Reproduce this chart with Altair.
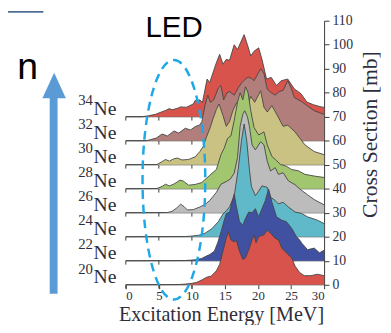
import altair as alt
import pandas as pd

# ---------------- data ----------------
isotopes = ["20Ne", "22Ne", "24Ne", "26Ne", "28Ne", "30Ne", "32Ne", "34Ne"]
mass_numbers = ["20", "22", "24", "26", "28", "30", "32", "34"]
offset_step = 10  # mb between stacked spectra
colors = ["#d8534b", "#3f51a0", "#5fb9c9", "#bcbcbc", "#a2c56f", "#c9c283", "#b27e7b", "#d8534b"]

e_20 = [0, 8, 9, 10, 10.7, 11.5, 12.2, 12.9, 13.7, 14.2, 14.7, 15.2, 15.5, 15.9, 16.4, 16.7, 17.2, 17.7, 18.1,
        18.7, 19.1, 19.4, 19.7, 20.1, 20.9, 21.4, 21.9, 22.6, 23.1, 23.6, 24.3, 25.1, 25.6, 26.3, 27.0, 28.0, 29.0, 30]
cs_20 = [0, 0.1, 0.3, 0.6, 1.0, 2.0, 3.1, 3.6, 5.8, 8.5, 14.0, 19.4, 22.2, 18.7, 17.8, 18.7, 14.0, 10.6, 11.2,
         15.3, 18.7, 20.8, 17.5, 20.1, 20.8, 22.8, 21.5, 19.4, 18.7, 15.3, 13.3, 11.2, 7.8, 5.1, 3.8, 3.8, 4.4, 3.8]

e_22 = [0, 9, 10.5, 11.5, 12.2, 12.7, 13.4, 13.9, 14.4, 14.9, 15.2, 15.7, 16.2, 16.4, 16.7, 17.2, 17.7, 18.1, 18.6,
        19.1, 19.6, 20.1, 20.6, 21.1, 21.6, 22.1, 22.8, 23.6, 24.3, 25.1, 25.8, 26.3, 26.6, 27.5, 28.5, 29.3, 30]
cs_22 = [0, 0.1, 0.4, 1.0, 2.0, 2.6, 4.0, 7.5, 12.0, 17.0, 19.7, 20.3, 25.8, 27.8, 23.0, 16.3, 14.9, 17.6, 20.3,
         20.0, 21.7, 18.3, 21.7, 25.0, 29.9, 24.4, 18.3, 16.9, 16.3, 13.5, 10.1, 8.7, 7.4, 4.6, 5.3, 3.3, 4.4]

e_24 = [0, 9, 10, 11, 12, 13, 14, 14.7, 15.2, 15.7, 16.4, 17.0, 17.5, 17.9, 18.3, 18.7, 19.0, 19.6, 20.1, 20.6,
        21.4, 21.9, 22.6, 23.1, 23.8, 24.6, 25.6, 26.6, 27.5, 29, 30]
cs_24 = [0, 0.1, 0.3, 0.6, 1.5, 3.3, 6.3, 9.5, 10.8, 12.5, 17, 28, 40, 47, 40, 28, 21, 17.1, 19, 21.2,
         20.6, 16.5, 15.1, 13.7, 14.4, 12.4, 10.3, 9.7, 8.3, 6.9, 5.5]

e_26 = [0, 6.3, 7.0, 7.7, 8.3, 8.8, 9.3, 10.2, 11.2, 12.0, 12.7, 13.7, 14.4, 15.2, 15.8, 16.4, 16.9, 17.3, 17.7,
        18.0, 18.4, 18.7, 19.1, 19.6, 20.4, 20.9, 21.4, 21.9, 22.6, 23.1, 23.8, 24.6, 25.6, 26.5, 27.5, 28.5, 30]
cs_26 = [0, 0.1, 0.6, 2.0, 3.6, 2.6, 1.2, 1.3, 2.4, 3.5, 5.1, 8.5, 11.9, 13, 14, 16.5, 23, 36, 41,
         42.5, 40, 36, 28.3, 26.2, 29.6, 28.3, 21.5, 17.4, 18.8, 16, 16.7, 13.3, 11.7, 9.5, 7.5, 5.5, 3.3]

e_28 = [0, 4.7, 5.5, 6.0, 6.6, 7.3, 8.2, 8.7, 9.5, 10.5, 11.5, 12.7, 13.7, 14.4, 14.9, 15.4, 15.9, 16.4, 16.9,
        17.3, 17.7, 18.1, 18.5, 18.9, 19.4, 20.1, 20.9, 21.4, 22.1, 22.7, 23.4, 24.2, 25.1, 26.1, 27.1, 28.5, 30]
cs_28 = [0, 0.1, 1.0, 1.9, 1.2, 2.0, 3.6, 3.2, 1.5, 1.8, 2.6, 5.6, 8.0, 14.2, 17, 21, 22, 28.5, 36,
         40, 37, 42.5, 40, 32.6, 25.5, 22.4, 23.7, 18.3, 13.5, 12, 10.1, 9.5, 8, 7.5, 6, 5.3, 4.7]

e_30 = [0, 4.7, 5.5, 6.0, 6.6, 7.2, 7.8, 8.5, 9.5, 10.5, 11.2, 11.7, 12.2, 12.7, 13.2, 13.7, 14.1, 14.7, 15.2,
        15.7, 16.2, 16.8, 17.5, 18.3, 18.9, 19.5, 20.4, 20.9, 21.4, 22.1, 22.8, 23.8, 24.5, 25.6, 27.1, 28.5, 30]
cs_30 = [0, 0.1, 1.3, 2.2, 1.5, 2.4, 2.8, 2.0, 2.2, 3.3, 5.5, 7.5, 11.5, 15, 19.2, 23, 25.3, 20.6, 16,
         18, 22.6, 26, 24, 24, 28.5, 26, 30.8, 24, 22, 24.6, 21.2, 16, 16.5, 13.7, 8.3, 5.5, 4.2]

e_32 = [0, 3.1, 4.6, 5.5, 6.3, 7.3, 8.0, 9.0, 9.8, 10.5, 11.2, 11.5, 12.0, 12.4, 12.8, 13.3, 14.0, 14.4, 14.8,
        15.3, 15.7, 16.4, 17.0, 17.5, 18.0, 18.5, 19.0, 19.4, 20.0, 20.4, 20.9, 21.4, 22.0, 22.6, 23.2, 23.8,
        24.5, 25.0, 25.5, 26.5, 27.5, 28.5, 29.5, 30]
cs_32 = [0, 0, 1.1, 2.8, 2, 4.1, 3.2, 5.2, 4.5, 5.9, 6.6, 8, 15, 19, 16, 17, 22, 23, 17,
         20, 20.5, 19, 22, 24, 25.5, 26.5, 26, 25, 28, 30, 28, 21.5, 20, 19, 20.5, 21,
         25, 22, 18, 16.5, 14.5, 12.5, 11.5, 11]

e_34 = [0, 2.5, 3.4, 4.5, 5.4, 6.0, 6.6, 7.0, 7.8, 8.3, 8.8, 9.2, 10.2, 10.5, 11.2, 11.6, 12.3, 12.7, 13.7,
        14.2, 14.7, 15.2, 15.7, 16.4, 16.9, 17.9, 18.4, 18.9, 19.4, 20.1, 20.6, 21.3, 22.0, 22.8, 23.5, 24.5,
        25.5, 26.5, 27.4, 28.4, 29.7, 30]
cs_34 = [0, 0, 0.4, 1, 2, 2.6, 3.4, 2.9, 3.5, 4.1, 4, 4, 5.3, 6.8, 7, 6, 15.7, 14.3, 22.5,
         26, 21.9, 23.9, 23.5, 30, 28, 34.2, 30, 25.3, 27.3, 28.7, 23.9, 15.7, 16.4, 13, 15, 15.7,
         11.6, 9.6, 6.1, 5, 4, 4]

x_ticks = [0, 5, 10, 15, 20, 25, 30]
y_ticks = [0, 10, 20, 30, 40, 50, 60, 70, 80, 90, 100, 110]
row_ticks = [0, 5, 10]

series = {
    "20Ne": (e_20, cs_20), "22Ne": (e_22, cs_22), "24Ne": (e_24, cs_24), "26Ne": (e_26, cs_26),
    "28Ne": (e_28, cs_28), "30Ne": (e_30, cs_30), "32Ne": (e_32, cs_32), "34Ne": (e_34, cs_34),
}

rows = []
for i, iso in enumerate(isotopes):
    e, cs = series[iso]
    for ee, c in zip(e, cs):
        rows.append({"iso": iso, "E": ee, "cs": c, "base": i * offset_step})
df = pd.DataFrame(rows)
df["y"] = df["cs"] + df["base"]

bases = [i * offset_step for i in range(len(isotopes))]
base_df = pd.DataFrame({"base": bases, "E0": 0, "E1": 30, "mass": mass_numbers})
tick_df = pd.DataFrame([{"base": b, "E": t} for b in bases for t in row_ticks])

SERIF = "Liberation Serif"
SANS = "Liberation Sans"
TXT = "#2e2e3c"

xs = alt.Scale(domain=[0, 30], nice=False, zero=False)
ys = alt.Scale(domain=[0, 110], nice=False, zero=False)

x_axis = alt.Axis(values=x_ticks, title=None, grid=False, domain=False,
                  tickSize=4, tickColor="#3a3a3a", labelFont=SERIF,
                  labelFontSize=13, labelColor=TXT, labelPadding=1)
y_axis = alt.Axis(orient="right", values=y_ticks, title=None, grid=False,
                  domainColor="#3a3a3a", tickColor="#3a3a3a", tickSize=5,
                  labelFont=SERIF, labelFontSize=14, labelColor=TXT, labelPadding=3)


def X(field):
    return alt.X(field, scale=xs, axis=x_axis, title=None)


def Y(field):
    return alt.Y(field, scale=ys, axis=y_axis, title=None)


# baselines
rules = alt.Chart(base_df).mark_rule(color="#3a3a3a", strokeWidth=1).encode(
    x=X("E0:Q"), x2="E1:Q", y=Y("base:Q"),
)

ticks = alt.Chart(tick_df).transform_calculate(y2="datum.base - 1.6").mark_rule(
    color="#3a3a3a", strokeWidth=1).encode(
    x=X("E:Q"), y=Y("base:Q"), y2="y2:Q",
)

area_layers = []
for i in reversed(range(len(isotopes))):
    iso = isotopes[i]
    area_layers.append(
        alt.Chart(df[df["iso"] == iso]).mark_area(
            color=colors[i], opacity=1, line={"color": "#454545", "strokeWidth": 0.9}
        ).encode(
            x=X("E:Q"), y=Y("y:Q"), y2="base:Q",
        )
    )

ne_labels = alt.Chart(base_df).mark_text(
    text="Ne", align="right", baseline="alphabetic", font=SERIF, fontSize=20, dy=-1.5, color=TXT
).encode(x=alt.value(-9.5), y=Y("base:Q"))

mass_labels = alt.Chart(base_df).mark_text(
    align="right", baseline="alphabetic", font=SERIF, fontSize=15, dy=-11.5, color=TXT
).encode(x=alt.value(-33.5), y=Y("base:Q"), text="mass:N")

one = pd.DataFrame({"a": [0]})

x_title = alt.Chart(one).mark_text(
    text="Excitation Energy [MeV]", align="center", baseline="alphabetic", font=SERIF, fontSize=20.5, color=TXT
).encode(x=alt.value(97.5), y=alt.value(306))

y_title = alt.Chart(one).mark_text(
    text="Cross Section [mb]", align="center", baseline="middle", font=SERIF, fontSize=22, angle=270, color=TXT
).encode(x=alt.value(249), y=alt.value(116))

led = alt.Chart(one).mark_text(
    text="LED", align="left", baseline="alphabetic", font=SANS, fontSize=30, color="black"
).encode(x=alt.value(20), y=alt.value(17))

n_text = alt.Chart(one).mark_text(
    text="n", align="left", baseline="alphabetic", font=SANS, fontSize=38, color="black"
).encode(x=alt.value(-110.5), y=alt.value(59))

arrow_shaft = alt.Chart(one).mark_rule(color="#5b9bd5", strokeWidth=8).encode(
    x=alt.value(-73.5), y=alt.value(76), y2=alt.value(278)
)
arrow_head = alt.Chart(one).mark_point(
    shape="M-0.92,1L0,-1L0.92,1Z", filled=True, color="#5b9bd5", opacity=1, size=676
).encode(x=alt.value(-73), y=alt.value(66))

corner_line = alt.Chart(one).mark_rule(color="#4d6f96", strokeWidth=2).encode(
    x=alt.value(-120), x2=alt.value(-84), y=alt.value(-9)
)

a, k = 0.262, 0.5523
ellipse_path = (f"M0,-1C{a*k:.4f},-1 {a},{-k} {a},0C{a},{k} {a*k:.4f},1 0,1"
                f"C{-a*k:.4f},1 {-a},{k} {-a},0C{-a},{-k} {-a*k:.4f},-1 0,-1Z")
ellipse = alt.Chart(one).mark_point(
    shape=ellipse_path, filled=False, stroke="#1ea8e6", strokeWidth=2.5, strokeDash=[9, 6],
    opacity=1, size=244 ** 2
).encode(x=alt.value(49), y=alt.value(162))

chart = alt.layer(
    rules, ticks, *area_layers, ne_labels, mass_labels, x_title, y_title, led, n_text,
    arrow_shaft, arrow_head, corner_line, ellipse
).properties(
    width=202, height=269,
    autosize=alt.AutoSizeParams(type="none"),
    padding={"left": 120, "top": 10, "right": 60, "bottom": 38},
).configure_view(stroke=None)

chart.save("out.html", embed_options={"renderer": "svg", "actions": False})
